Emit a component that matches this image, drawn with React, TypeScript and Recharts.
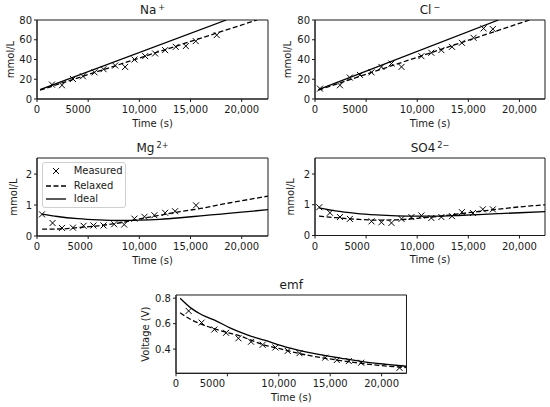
import React from "react";
import { ComposedChart, Line, Scatter, XAxis, YAxis, ReferenceArea } from "recharts";

type Pt = [number, number];

const X_TICKS = [0, 5000, 10000, 15000, 20000];

// Na+
const naMeasured: Pt[] = [
  [1460, 14.6], [2440, 13.9], [3510, 20.3], [4490, 23], [5620, 27], [6500, 30.2],
  [7640, 33.9], [8610, 32.5], [9520, 40], [10570, 43.4], [11540, 46.1], [12520, 49.5],
  [13560, 52.8], [14540, 53.6], [15510, 58.6], [17560, 64.7],
];
const naRelaxed: Pt[] = [[300, 9], [21500, 80]];
const naIdeal: Pt[] = [[300, 9.5], [18500, 80]];

// Cl-
const clMeasured: Pt[] = [
  [490, 10.5], [2440, 13.9], [3410, 21.7], [4390, 24.4], [5530, 27], [6500, 32.5],
  [7480, 35.9], [8460, 32.5], [10410, 43.4], [11380, 46.8], [12360, 49.5], [13400, 52.8],
  [14370, 56.9], [15510, 62], [16490, 71.5], [17400, 70.8],
];
const clRelaxed: Pt[] = [[330, 9], [20980, 80]];
const clIdeal: Pt[] = [[330, 9.5], [17950, 80]];

// Mg2+
const mgMeasured: Pt[] = [
  [490, 0.7], [1520, 0.42], [2440, 0.26], [3510, 0.27], [4550, 0.33], [5520, 0.34],
  [6500, 0.34], [7540, 0.38], [8520, 0.37], [9520, 0.56], [10500, 0.62], [11470, 0.67],
  [12520, 0.75], [13490, 0.8], [15540, 0.99],
];
const mgRelaxed: Pt[] = [
  [500, 0.22], [2500, 0.23], [4000, 0.27], [6000, 0.33], [8000, 0.42], [10000, 0.55],
  [12000, 0.67], [14000, 0.79], [16000, 0.89], [18000, 1.02], [20000, 1.14], [22600, 1.29],
];
const mgIdeal: Pt[] = [
  [500, 0.71], [2000, 0.63], [4000, 0.56], [6000, 0.52], [8000, 0.5], [10000, 0.51],
  [12000, 0.54], [14000, 0.59], [16000, 0.65], [18000, 0.71], [20000, 0.77], [22600, 0.85],
];

// SO4 2-
const so4Measured: Pt[] = [
  [420, 0.92], [1460, 0.74], [2440, 0.6], [3410, 0.54], [5530, 0.46], [6500, 0.43],
  [7480, 0.41], [8460, 0.54], [9430, 0.6], [10410, 0.65], [11380, 0.57], [12360, 0.6],
  [13400, 0.63], [14370, 0.76], [15450, 0.73], [16420, 0.85], [17400, 0.85],
];
const so4Relaxed: Pt[] = [
  [400, 0.63], [2000, 0.58], [4000, 0.53], [6000, 0.5], [8000, 0.51], [10000, 0.56],
  [12000, 0.62], [14000, 0.7], [16000, 0.78], [18000, 0.86], [20000, 0.93], [22600, 1.0],
];
const so4Ideal: Pt[] = [
  [400, 0.9], [2000, 0.8], [4000, 0.72], [6000, 0.67], [8000, 0.64], [10000, 0.63],
  [12000, 0.63], [14000, 0.65], [16000, 0.68], [18000, 0.71], [20000, 0.74], [22600, 0.78],
];

// emf
const emfMeasured: Pt[] = [
  [1230, 0.7], [2490, 0.608], [3730, 0.554], [4870, 0.528], [6070, 0.485], [7300, 0.458],
  [8430, 0.434], [9670, 0.413], [10870, 0.386], [12010, 0.368], [14510, 0.333],
  [15640, 0.314], [16810, 0.306], [18010, 0.293], [21740, 0.253],
];
const emfRelaxed: Pt[] = [
  [400, 0.685], [1500, 0.63], [2500, 0.595], [3700, 0.56], [5000, 0.53], [6000, 0.51],
  [7300, 0.47], [8500, 0.435], [10000, 0.405], [12000, 0.365], [14000, 0.335],
  [16000, 0.31], [18300, 0.285], [20000, 0.27], [22400, 0.255],
];
const emfIdeal: Pt[] = [
  [400, 0.8], [1500, 0.72], [2500, 0.67], [3700, 0.63], [5300, 0.565], [7000, 0.51],
  [8600, 0.47], [11000, 0.41], [13500, 0.365], [16000, 0.33], [18300, 0.3],
  [20500, 0.28], [22400, 0.265],
];

const legendItems = ["Measured", "Relaxed", "Ideal"];

const PAD_L = 45;
const PAD_T = 25;
const PAD_R = 10;
const PAD_B = 40;
const YW = 30;
const XH = 35;
const INK = "#1a1a1a";

const toRows = (pts: Pt[]) => pts.map(([t, v]) => ({ t, v }));
const fmtX = (v: number) => (v >= 10000 ? v.toLocaleString("en-US") : String(v));

const Cross = (props: any) => {
  const { cx, cy } = props;
  const r = 3;
  return (
    <path
      d={`M${cx - r},${cy - r}L${cx + r},${cy + r}M${cx - r},${cy + r}L${cx + r},${cy - r}`}
      stroke="#000"
      strokeWidth={1}
      fill="none"
    />
  );
};

// matplotlib-style legend box, placed over the Mg panel
function MplLegend({ x, y }: { x: number; y: number }) {
  const handles = [
    <path key="m" d="M7,4L13,10M7,10L13,4" stroke="#000" strokeWidth={1} />,
    <line key="r" x1={0} y1={7} x2={20} y2={7} stroke="#000" strokeWidth={1.3} strokeDasharray="5 2.5" />,
    <line key="i" x1={0} y1={7} x2={20} y2={7} stroke="#000" strokeWidth={1.3} />,
  ];
  const rowY = [8.5, 23, 36.5];
  return (
    <div
      style={{
        position: "absolute",
        left: x,
        top: y,
        width: 84,
        height: 46,
        border: "1px solid #cfcfcf",
        borderRadius: 3,
        background: "rgba(255,255,255,0.85)",
        boxSizing: "border-box",
      }}
    >
      {legendItems.map((label, i) => (
        <div key={label} style={{ position: "absolute", left: 0, top: rowY[i] - 7, height: 14, width: "100%" }}>
          <svg width={24} height={14} style={{ position: "absolute", left: 3, top: 0 }}>
            {handles[i]}
          </svg>
          <span style={{ position: "absolute", left: 31, top: 0, fontSize: 10, lineHeight: "14px", color: INK }}>
            {label}
          </span>
        </div>
      ))}
    </div>
  );
}

interface PanelProps {
  box: { x: number; y: number; w: number; h: number };
  title: React.ReactNode;
  yDomain: [number, number];
  yTicks: number[];
  yLabel: string;
  yLabelX: number;
  xMax: number;
  tickShift: number;
  measured: Pt[];
  relaxed: Pt[];
  ideal: Pt[];
  curve: "linear" | "monotone";
}

function Panel({ box, title, yDomain, yTicks, yLabel, yLabelX, xMax, tickShift, measured, relaxed, ideal, curve }: PanelProps) {
  const left = box.x - PAD_L;
  const top = box.y - PAD_T;
  return (
    <>
      <div
        style={{
          position: "absolute",
          left: box.x,
          top: box.y - 18,
          width: box.w,
          textAlign: "center",
          fontSize: 12,
          lineHeight: "16px",
          color: INK,
        }}
      >
        {title}
      </div>
      <div style={{ position: "absolute", left, top }}>
        <ComposedChart
          width={box.w + PAD_L + PAD_R}
          height={box.h + PAD_T + PAD_B}
          margin={{ top: PAD_T, right: PAD_R, left: PAD_L - YW, bottom: PAD_B - XH }}
        >
          <XAxis
            type="number"
            dataKey="t"
            domain={[0, xMax]}
            ticks={X_TICKS}
            allowDataOverflow
            height={XH}
            tickSize={3}
            tickMargin={4}
            stroke={INK}
            tick={(p: any) => (
              <text
                x={p.x + (p.payload.value === 5000 ? tickShift : 0)}
                y={p.y}
                dy="0.71em"
                textAnchor="middle"
                fontSize={10}
                fill={INK}
              >
                {fmtX(p.payload.value)}
              </text>
            )}
            label={{ value: "Time (s)", position: "insideBottom", offset: 7.4, fontSize: 10, fill: INK }}
          />
          <YAxis
            type="number"
            dataKey="v"
            domain={yDomain}
            ticks={yTicks}
            allowDataOverflow
            width={YW}
            tickSize={3}
            tickMargin={2}
            stroke={INK}
            tick={{ fontSize: 10, fill: INK }}
            label={{
              value: yLabel,
              angle: -90,
              position: "insideLeft",
              offset: yLabelX - left - (PAD_L - YW),
              style: { textAnchor: "middle", fontSize: 10, fill: INK },
            }}
          />
          <ReferenceArea x1={0} x2={xMax} y1={yDomain[0]} y2={yDomain[1]} stroke={INK} strokeWidth={1} fill="none" />
          <Scatter data={toRows(measured)} dataKey="v" shape={Cross} isAnimationActive={false} />
          <Line
            data={toRows(relaxed)}
            dataKey="v"
            type={curve}
            stroke="#000"
            strokeWidth={1.3}
            strokeDasharray="5 2.5"
            dot={false}
            isAnimationActive={false}
          />
          <Line
            data={toRows(ideal)}
            dataKey="v"
            type={curve}
            stroke="#000"
            strokeWidth={1.3}
            dot={false}
            isAnimationActive={false}
          />
        </ComposedChart>
      </div>
    </>
  );
}

const sup = (s: string) => (
  <sup style={{ fontSize: "0.68em", verticalAlign: "0.55em", lineHeight: 0, marginLeft: 2 }}>{s}</sup>
);

export default function App() {
  return (
    <div
      style={{
        position: "absolute",
        left: 0,
        top: 0,
        width: 550,
        height: 407,
        background: "#fff",
        fontFamily: "'DejaVu Sans', sans-serif",
      }}
    >
      <Panel
        box={{ x: 37, y: 20, w: 231, h: 79 }}
        title={<span>Na{sup("+")}</span>}
        yDomain={[0, 80]}
        yTicks={[0, 20, 40, 60, 80]}
        yLabel="mmol/L"
        yLabelX={10}
        xMax={22570}
        tickShift={-10}
        measured={naMeasured}
        relaxed={naRelaxed}
        ideal={naIdeal}
        curve="linear"
      />
      <Panel
        box={{ x: 315, y: 20, w: 230, h: 79 }}
        title={<span>Cl{sup("\u2212")}</span>}
        yDomain={[0, 80]}
        yTicks={[0, 20, 40, 60, 80]}
        yLabel="mmol/L"
        yLabelX={287}
        xMax={22500}
        tickShift={-11}
        measured={clMeasured}
        relaxed={clRelaxed}
        ideal={clIdeal}
        curve="linear"
      />
      <Panel
        box={{ x: 37, y: 158, w: 231, h: 78 }}
        title={<span>Mg{sup("2+")}</span>}
        yDomain={[0, 2.52]}
        yTicks={[0, 1, 2]}
        yLabel="mmol/L"
        yLabelX={13}
        xMax={22570}
        tickShift={-8}
        measured={mgMeasured}
        relaxed={mgRelaxed}
        ideal={mgIdeal}
        curve="monotone"
      />
      <MplLegend x={41.7} y={161.7} />
      <Panel
        box={{ x: 315, y: 158, w: 230, h: 77.5 }}
        title={<span>SO4{sup("2\u2212")}</span>}
        yDomain={[0, 2.52]}
        yTicks={[0, 1, 2]}
        yLabel="mmol/L"
        yLabelX={290}
        xMax={22500}
        tickShift={-9}
        measured={so4Measured}
        relaxed={so4Relaxed}
        ideal={so4Ideal}
        curve="monotone"
      />
      <Panel
        box={{ x: 176, y: 295, w: 230.5, h: 78.3 }}
        title={<span>emf</span>}
        yDomain={[0.21, 0.825]}
        yTicks={[0.4, 0.6, 0.8]}
        yLabel="Voltage (V)"
        yLabelX={145}
        xMax={22420}
        tickShift={-15}
        measured={emfMeasured}
        relaxed={emfRelaxed}
        ideal={emfIdeal}
        curve="monotone"
      />
    </div>
  );
}
